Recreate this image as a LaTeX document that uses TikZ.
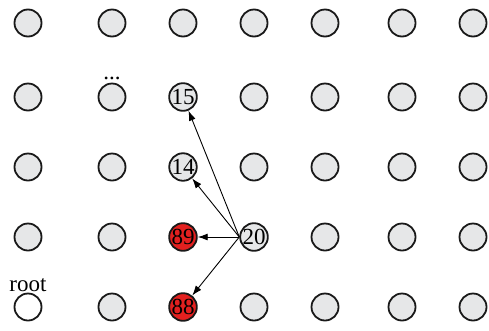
\documentclass[tikz,border=0pt]{standalone}
\usepackage{fontspec}
\setmainfont{Liberation Serif}
\usepackage{tikz}
\usetikzlibrary{arrows.meta,positioning}
\usepackage{xcolor}
\definecolor{cellgray}{HTML}{E6E7E8}
\definecolor{cellred}{HTML}{E3201F}

\tikzset{
  cell/.style={circle,draw=black!90,line width=1.8pt,fill=cellgray,minimum size=27pt,inner sep=0pt,font=\fontsize{23}{26}\selectfont},
  hot/.style={cell,fill=cellred},
  step arrow/.style={-{Latex[length=10pt,width=7pt]},line width=0.9pt}
}

\begin{document}
\begin{tikzpicture}[x=1pt,y=-1pt]
        \useasboundingbox (0,0) rectangle (489,330);
        % plain grid cells
        \foreach \col/\x in {1/28,2/112,3/183,4/254,5/325,6/402,7/473}
          \foreach \row/\y in {1/23,2/97,3/167,4/237,5/307} {
            \pgfmathtruncatemacro\isspecial{(\col==3 && \row>1) || (\col==4 && \row==4) || (\col==1 && \row==5)}
            \ifnum\isspecial=0
              \node[cell] (c\col\row) at (\x,\y) {};
            \fi
          }
        % labelled cells
        \node[cell] (c32) at (183,97) {15};
        \node[cell] (c33) at (183,167) {14};
        \node[hot] (c34) at (183,237) {89};
        \node[hot] (c35) at (183,307) {88};
        \node[cell] (c44) at (254,237) {20};
        \node[cell,fill=white,label={[inner sep=1pt,font=\fontsize{23}{26}\selectfont]above:root}] (c15) at (28,307) {};
        \node[above=3pt of c22,inner sep=0pt,font=\fontsize{23}{26}\selectfont] (dots) {...};
        % moves
        \foreach \target in {c32,c33,c34,c35}
          \draw[step arrow] (c44.west) -- (\target);
      \end{tikzpicture}
\end{document}
